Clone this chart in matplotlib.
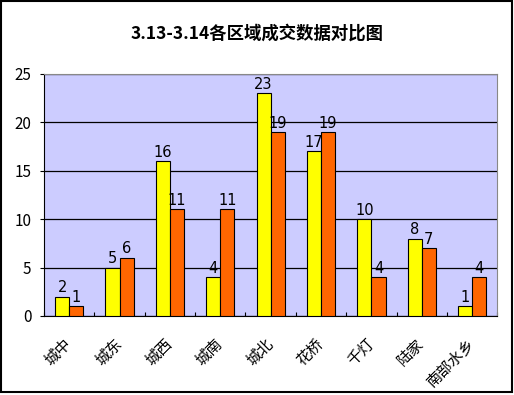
import numpy as np
import matplotlib.pyplot as plt
from matplotlib.patches import Rectangle

plt.rcParams['font.family'] = ['Noto Sans CJK SC', 'DejaVu Sans']

# datos
regiones = ['城中', '城东', '城西', '城南', '城北', '花桥', '千灯', '陆家', '南部水乡']
serie_313 = [2, 5, 16, 4, 23, 17, 10, 8, 1]
serie_314 = [1, 6, 11, 11, 19, 19, 4, 7, 4]
titulo = '3.13-3.14各区域成交数据对比图'

fig = plt.figure(figsize=(5.14, 3.95), dpi=100)
ax = fig.add_axes([0.0856, 0.2, 0.882, 0.613])
ax.set_facecolor('#CCCCFF')

x = np.arange(len(regiones))
w = 0.28
b1 = ax.bar(x - w / 2, serie_313, w, color='#FFFF00', edgecolor='black', linewidth=0.8, zorder=3)
b2 = ax.bar(x + w / 2, serie_314, w, color='#FF6600', edgecolor='black', linewidth=0.8, zorder=3)
for barras in (b1, b2):
    ax.bar_label(barras, padding=1, fontsize=10.5, family='DejaVu Sans')

ax.set_xlim(-0.5, len(regiones) - 0.5)
ax.set_ylim(0, 25)
ax.set_yticks(range(0, 26, 5))
ax.grid(axis='y', color='black', linewidth=0.9, zorder=1)
ax.tick_params(axis='y', length=3, labelsize=11, pad=6)

# ticks de categoria en los limites
ax.set_xticks(np.arange(-0.5, len(regiones), 1))
ax.set_xticklabels([])
ax.tick_params(axis='x', direction='in', length=3)
for i, r in enumerate(regiones):
    ax.text(i - 0.12, -2.0, r, rotation=45, ha='right', va='top', fontsize=11,
            rotation_mode='anchor')

for s in ['top', 'right']:
    ax.spines[s].set_color('#888888')
    ax.spines[s].set_linewidth(0.8)
for s in ['left', 'bottom']:
    ax.spines[s].set_color('black')

fig.text(0.5, 0.915, titulo, ha='center', va='center', fontsize=12.5, fontweight='bold')

# marco de la figura
fig.patches.append(Rectangle((0.002, 0.008), 0.994, 0.99, transform=fig.transFigure,
                             fill=False, edgecolor='black', linewidth=1.5))

fig.savefig('out.png', dpi=100)
